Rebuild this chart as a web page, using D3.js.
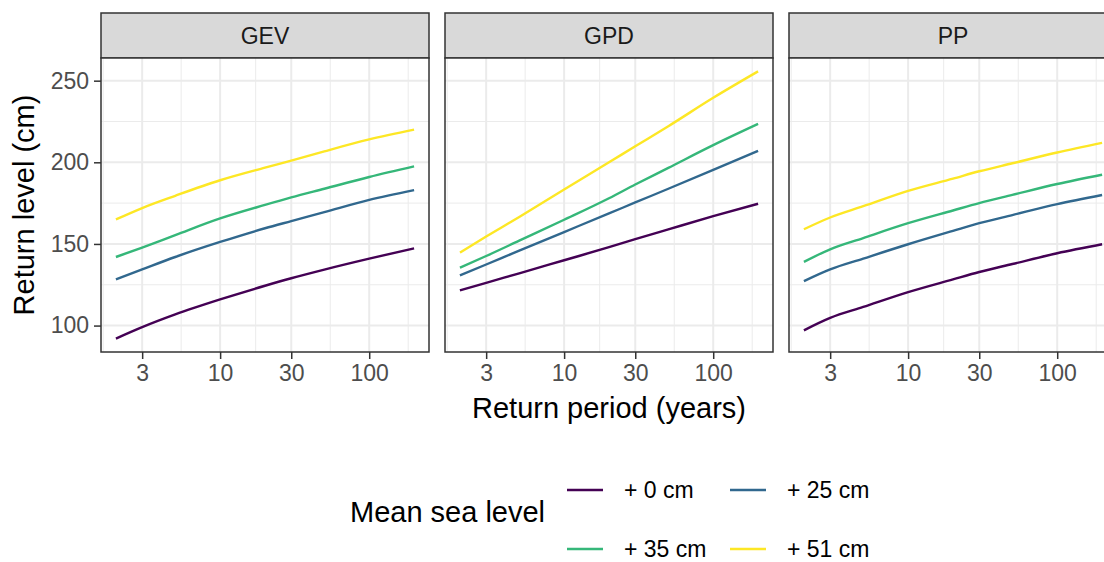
<!DOCTYPE html>
<html>
<head>
<meta charset="utf-8">
<script src="https://cdn.jsdelivr.net/npm/d3@7"></script>
<style>
  body { margin: 0; background: #fff; }
  svg { display: block; font-family: "Liberation Sans", Arial, sans-serif; }
</style>
</head>
<body>
<div id="chart"></div>
<script>
// return periods (years) at which the curves were read
var periods = [2, 3, 5, 10, 20, 30, 50, 100, 200];

var facets = ["GEV", "GPD", "PP"];
var seaLevels = ["+ 0 cm", "+ 25 cm", "+ 35 cm", "+ 51 cm"];
var levelColors = ["#440154", "#31688E", "#35B779", "#FDE725"];

// GEV return levels (cm)
var gev0  = [92, 99, 106.8, 116, 124.4, 129, 134.3, 141, 147.3];
var gev25 = [128.3, 134.4, 142, 151.2, 159.6, 164, 169.5, 177, 183];
var gev35 = [142, 147.8, 155.4, 165.6, 173.9, 178.5, 183.8, 191, 197.5];
var gev51 = [165, 172, 179.5, 189, 196.7, 201, 206.7, 214, 220];

// GPD return levels (cm)
var gpd0  = [121.5, 126.2, 132, 140, 148, 152.9, 158.9, 167, 174.6];
var gpd25 = [130.7, 137.4, 145.9, 157.3, 168.7, 175.4, 183.8, 195.3, 207];
var gpd35 = [135.5, 142.6, 152, 164.8, 178, 186.4, 196.6, 210.5, 223.5];
var gpd51 = [144.7, 154.5, 166.5, 183.3, 200, 209.8, 222.1, 239.5, 255.7];

// PP return levels (cm)
var pp0  = [97.1, 104.7, 111.4, 120.5, 128.3, 132.8, 137.7, 144.3, 149.8];
var pp25 = [127.2, 134.4, 141, 149.8, 158, 162.7, 167.7, 174.4, 180];
var pp35 = [139, 146.7, 153.6, 162.7, 170.5, 175, 180, 186.7, 192.4];
var pp51 = [159, 166.2, 173.1, 182.5, 190, 194.5, 199.4, 206, 211.9];

var facetSeries = {
  GEV: [gev0, gev25, gev35, gev51],
  GPD: [gpd0, gpd25, gpd35, gpd51],
  PP: [pp0, pp25, pp35, pp51]
};

var width = 1104, height = 562;
var panel = {left: 101, top: 58, width: 328, height: 294, gap: 16, strip: 45};

var svg = d3.select("#chart").append("svg")
  .attr("width", width)
  .attr("height", height);

// x: log scale with 5% expansion in log space (like ggplot)
var lx0 = Math.log10(d3.min(periods)), lx1 = Math.log10(d3.max(periods));
var xpad = (lx1 - lx0) * 0.05;
var x = d3.scaleLog()
  .domain([Math.pow(10, lx0 - xpad), Math.pow(10, lx1 + xpad)])
  .range([0, panel.width]);

// y: linear with 5% expansion
var allVals = d3.merge(facets.map(function(f) { return d3.merge(facetSeries[f]); }));
var ymin = d3.min(allVals), ymax = d3.max(allVals);
var ypad = (ymax - ymin) * 0.05;
var y = d3.scaleLinear()
  .domain([ymin - ypad, ymax + ypad])
  .range([panel.height, 0]);

var xMajor = [3, 10, 30, 100];
var yMajor = [100, 150, 200, 250];

// minor breaks: midpoints in transformed space
function minorBreaks(b, lo, hi, f, finv) {
  var t = b.map(f);
  var d = t[1] - t[0];
  if (f(lo) < t[0]) t.unshift(t[0] - d);
  if (f(hi) > t[t.length - 1]) t.push(t[t.length - 1] + d);
  var out = [];
  for (var i = 0; i < t.length - 1; i++) out.push(finv((t[i] + t[i + 1]) / 2));
  return out.filter(function(v) { return v > lo && v < hi; });
}
var xMinor = minorBreaks(xMajor, x.domain()[0], x.domain()[1], Math.log10, function(v) { return Math.pow(10, v); });
var yMinor = minorBreaks(yMajor, y.domain()[0], y.domain()[1], function(v) { return v; }, function(v) { return v; });

var line = d3.line()
  .x(function(d) { return x(d[0]); })
  .y(function(d) { return y(d[1]); })
  .curve(d3.curveMonotoneX);

facets.forEach(function(name, i) {
  var px = panel.left + i * (panel.width + panel.gap);
  var g = svg.append("g").attr("transform", "translate(" + px + "," + panel.top + ")");

  // strip
  g.append("rect")
    .attr("x", 0).attr("y", -panel.strip)
    .attr("width", panel.width).attr("height", panel.strip)
    .attr("fill", "#D9D9D9").attr("stroke", "#333333").attr("stroke-width", 1.5);
  g.append("text")
    .attr("x", panel.width / 2).attr("y", -panel.strip / 2)
    .attr("dy", "0.36em")
    .attr("text-anchor", "middle")
    .style("font-size", "23px").attr("fill", "#1A1A1A")
    .text(name);

  // background + grid
  g.append("rect").attr("width", panel.width).attr("height", panel.height).attr("fill", "#fff");
  g.selectAll(".xminor").data(xMinor).enter().append("line")
    .attr("x1", x).attr("x2", x).attr("y1", 0).attr("y2", panel.height)
    .attr("stroke", "#EBEBEB").attr("stroke-width", 1);
  g.selectAll(".yminor").data(yMinor).enter().append("line")
    .attr("y1", y).attr("y2", y).attr("x1", 0).attr("x2", panel.width)
    .attr("stroke", "#EBEBEB").attr("stroke-width", 1);
  g.selectAll(".xmajor").data(xMajor).enter().append("line")
    .attr("x1", x).attr("x2", x).attr("y1", 0).attr("y2", panel.height)
    .attr("stroke", "#EBEBEB").attr("stroke-width", 2);
  g.selectAll(".ymajor").data(yMajor).enter().append("line")
    .attr("y1", y).attr("y2", y).attr("x1", 0).attr("x2", panel.width)
    .attr("stroke", "#EBEBEB").attr("stroke-width", 2);

  // data lines
  facetSeries[name].forEach(function(vals, j) {
    g.append("path")
      .datum(periods.map(function(p, k) { return [p, vals[k]]; }))
      .attr("fill", "none")
      .attr("stroke", levelColors[j])
      .attr("stroke-width", 2.4)
      .attr("d", line);
  });

  // border
  g.append("rect").attr("width", panel.width).attr("height", panel.height)
    .attr("fill", "none").attr("stroke", "#333333").attr("stroke-width", 1.5);

  // x axis
  var xAxis = d3.axisBottom(x).tickValues(xMajor).tickFormat(d3.format("d")).tickSize(7).tickPadding(6);
  var xa = g.append("g").attr("transform", "translate(0," + panel.height + ")").call(xAxis);
  xa.select(".domain").remove();
  xa.selectAll(".tick line").attr("stroke", "#333333").attr("stroke-width", 1.5);
  xa.selectAll(".tick text").attr("fill", "#4D4D4D").style("font-size", "23px")
    .style("font-family", "Liberation Sans, Arial, sans-serif");

  // y axis only on first facet
  if (i === 0) {
    var yAxis = d3.axisLeft(y).tickValues(yMajor).tickSize(7).tickPadding(5);
    var ya = g.append("g").call(yAxis);
    ya.select(".domain").remove();
    ya.selectAll(".tick line").attr("stroke", "#333333").attr("stroke-width", 1.5);
    ya.selectAll(".tick text").attr("fill", "#4D4D4D").style("font-size", "23px")
      .style("font-family", "Liberation Sans, Arial, sans-serif");
  }
});

// axis titles
svg.append("text")
  .attr("x", panel.left + (3 * panel.width + 2 * panel.gap) / 2)
  .attr("y", 418)
  .attr("text-anchor", "middle")
  .style("font-size", "29px")
  .text("Return period (years)");

svg.append("text")
  .attr("transform", "translate(34," + (panel.top + panel.height / 2) + ") rotate(-90)")
  .attr("text-anchor", "middle")
  .style("font-size", "29px")
  .text("Return level (cm)");

// legend
var legend = svg.append("g");
legend.append("text")
  .attr("x", 350).attr("y", 522)
  .style("font-size", "29px")
  .text("Mean sea level");

var legendCols = [567, 730], legendRows = [490, 549];
seaLevels.forEach(function(lab, i) {
  var cx = legendCols[i % 2], cy = legendRows[Math.floor(i / 2)];
  legend.append("line")
    .attr("x1", cx).attr("x2", cx + 36)
    .attr("y1", cy).attr("y2", cy)
    .attr("stroke", levelColors[i]).attr("stroke-width", 2.4);
  legend.append("text")
    .attr("x", cx + 57).attr("y", cy)
    .attr("dy", "0.36em")
    .style("font-size", "23px")
    .text(lab);
});
</script>
</body>
</html>
